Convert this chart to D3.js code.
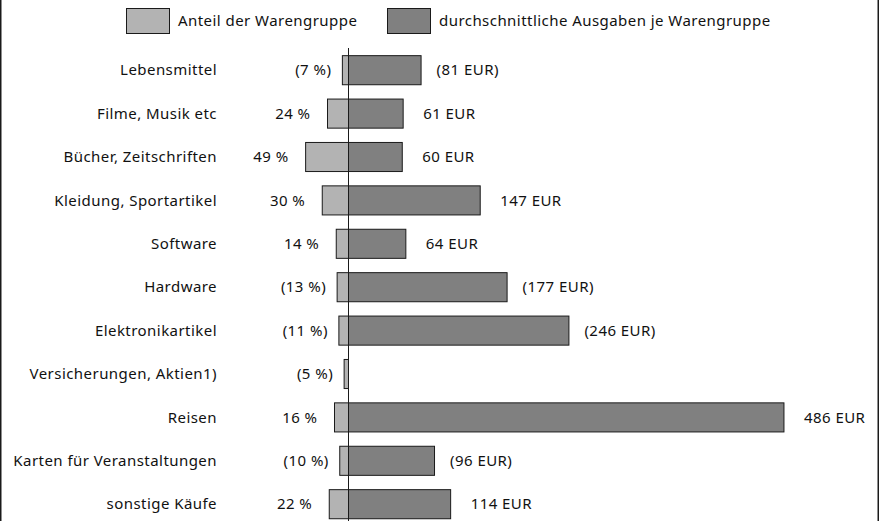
<!DOCTYPE html>
<html>
<head>
<meta charset="utf-8">
<script src="https://cdn.jsdelivr.net/npm/d3@7"></script>
<style>
  body { margin: 0; background: #fff; }
  svg { display: block; font-family: "Noto Sans", "Open Sans", sans-serif; letter-spacing: 0.45px; }
</style>
</head>
<body>
<div id="chart"></div>
<script>
// data
const categories = [
    "Lebensmittel", "Filme, Musik etc", "Bücher, Zeitschriften", "Kleidung, Sportartikel",
    "Software", "Hardware", "Elektronikartikel", "Versicherungen, Aktien1)",
    "Reisen", "Karten für Veranstaltungen", "sonstige Käufe"
]
const shares = [7, 24, 49, 30, 14, 13, 11, 5, 16, 10, 22]
const sharesUncertain = [true, false, false, false, false, true, true, true, false, true, false]
const spend = [81, 61, 60, 147, 64, 177, 246, null, 486, 96, 114]
const spendUncertain = [true, false, false, false, false, true, true, false, false, true, false]
const legendLabels = ["Anteil der Warengruppe", "durchschnittliche Ausgaben je Warengruppe"]

const rows = categories.map((c, i) => ({
    cat: c,
    share: shares[i],
    shareU: sharesUncertain[i],
    spend: spend[i],
    spendU: spendUncertain[i]
}))

// canvas
const width = 881
const height = 521
const lightCol = '#b3b3b3'
const darkCol = '#808080'
const strokeCol = '#1a1a1a'
const fontSize = 15

const svg = d3.select('#chart').append('svg')
    .attr('width', width)
    .attr('height', height)

// frame (only sides visible)
svg.append('rect')
    .attr('x', 0.75).attr('y', -5)
    .attr('width', 877.5).attr('height', height + 10)
    .attr('fill', 'none')
    .attr('stroke', strokeCol)
    .attr('stroke-width', 1.5)

const axisX = 348.5
const yScale = d3.scaleBand()
    .domain(categories)
    .range([48, 525.4])
    .paddingInner(0.33)
    .paddingOuter(0.165)
const shareScale = d3.scaleLinear()
    .domain([0, 100])
    .range([axisX, axisX - 87.5])
const spendScale = d3.scaleLinear()
    .domain([0, 500])
    .range([axisX, axisX + 448])

const g = svg.append('g').attr('class', 'bars')

// share bars (left)
g.selectAll('rect.share').data(rows)
    .join('rect')
    .attr('class', 'share')
    .attr('x', d => shareScale(d.share))
    .attr('y', d => yScale(d.cat) + 0.5)
    .attr('width', d => axisX - shareScale(d.share))
    .attr('height', yScale.bandwidth())
    .attr('fill', lightCol)
    .attr('stroke', strokeCol)
    .attr('stroke-width', 1)

// spending bars (right)
g.selectAll('rect.spend').data(rows.filter(d => d.spend != null))
    .join('rect')
    .attr('class', 'spend')
    .attr('x', axisX)
    .attr('y', d => yScale(d.cat) + 0.5)
    .attr('width', d => spendScale(d.spend) - axisX)
    .attr('height', yScale.bandwidth())
    .attr('fill', darkCol)
    .attr('stroke', strokeCol)
    .attr('stroke-width', 1)

// center line
svg.append('line')
    .attr('x1', axisX).attr('x2', axisX)
    .attr('y1', 48).attr('y2', height)
    .attr('stroke', strokeCol)
    .attr('stroke-width', 1)

const cy = d => yScale(d.cat) + yScale.bandwidth() / 2 + 0.5

// category labels
svg.selectAll('text.cat').data(rows)
    .join('text')
    .attr('class', 'cat')
    .attr('x', 217)
    .attr('y', cy)
    .attr('dy', '0.35em')
    .attr('text-anchor', 'end')
    .attr('font-size', fontSize)
    .attr('fill', '#111')
    .text(d => d.cat)

// share labels, parentheses hang outside the number
svg.selectAll('text.shareLab').data(rows)
    .join('text')
    .attr('class', 'shareLab')
    .attr('x', d => shareScale(d.share) - 17 + (d.shareU ? 6 : 0))
    .attr('y', cy)
    .attr('dy', '0.35em')
    .attr('text-anchor', 'end')
    .attr('font-size', fontSize)
    .attr('fill', '#111')
    .text(d => d.shareU ? `(${d.share} %)` : `${d.share} %`)

// spend labels
svg.selectAll('text.spendLab').data(rows.filter(d => d.spend != null))
    .join('text')
    .attr('class', 'spendLab')
    .attr('x', d => spendScale(d.spend) + 20 - (d.spendU ? 4.5 : 0))
    .attr('y', cy)
    .attr('dy', '0.35em')
    .attr('text-anchor', 'start')
    .attr('font-size', fontSize)
    .attr('fill', '#111')
    .text(d => d.spendU ? `(${d.spend} EUR)` : `${d.spend} EUR`)

// legend
const legendItems = [
    { label: legendLabels[0], col: lightCol, x: 126 },
    { label: legendLabels[1], col: darkCol, x: 387 }
]
const leg = svg.append('g').attr('class', 'legend')
leg.selectAll('rect').data(legendItems)
    .join('rect')
    .attr('x', d => d.x + 0.5)
    .attr('y', 8.5)
    .attr('width', 43)
    .attr('height', 25)
    .attr('fill', d => d.col)
    .attr('stroke', strokeCol)
    .attr('stroke-width', 1)
leg.selectAll('text').data(legendItems)
    .join('text')
    .attr('x', d => d.x + 52)
    .attr('y', 20.5)
    .attr('dy', '0.35em')
    .attr('font-size', fontSize)
    .attr('fill', '#111')
    .text(d => d.label)
</script>
</body>
</html>
